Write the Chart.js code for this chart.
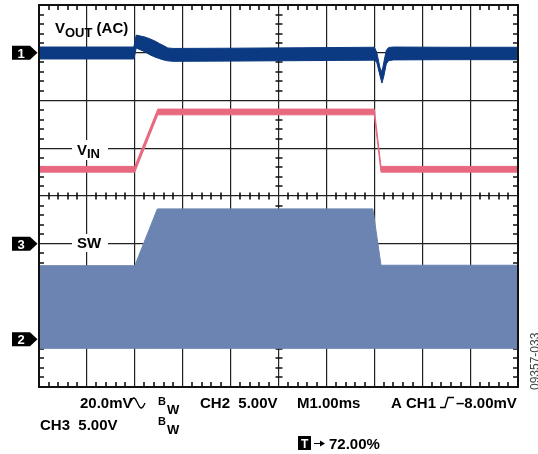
<!DOCTYPE html>
<html>
<head>
<meta charset="utf-8">
<script src="https://cdn.jsdelivr.net/npm/chart.js@4.4.1/dist/chart.umd.min.js"></script>
<style>
    html, body { margin: 0; padding: 0; background: #fff; }
    canvas { display: block; }
</style>
</head>
<body>
<canvas id="scope" width="538" height="454"></canvas>
<script>
// time base: M1.00ms per division, 10 divisions
const timeDivs = [0, 1, 2, 3, 4, 5, 6, 7, 8, 9, 10];

// CH1 - VOUT (AC), mV, upper and lower edge of the noisy trace
const voutTime  = [0, 1.98, 2.03, 2.12, 2.21, 2.32, 2.42, 2.52, 2.60, 2.69, 2.8, 4.0, 5.5, 7.0, 7.05, 7.12, 7.16, 7.2, 7.25, 7.3, 7.4, 8.5, 10];
const voutUpper = [2.4, 2.4, 7.4, 7.0, 6.6, 5.8, 4.9, 3.8, 3.0, 2.0, 1.8, 1.9, 2.1, 2.3, 0.3, -6.4, -8.0, -3.9, 1.0, 2.2, 2.4, 2.3, 2.3];
const voutLower = [-2.6, -2.6, 2.0, 1.2, 0.4, -0.9, -1.8, -2.5, -3.0, -3.4, -3.6, -3.5, -3.3, -3.1, -3.9, -9.7, -12.7, -9.7, -4.7, -3.3, -3.0, -2.9, -2.9];

// CH3 - VIN, volts
const vinTime  = [0, 2.0, 2.48, 7.0, 7.14, 10];
const vinUpper = [8.1, 8.1, 14.1, 14.1, 8.1, 8.1];
const vinLower = [7.5, 7.5, 13.5, 13.5, 7.5, 7.5];

// CH2 - SW node, volts (envelope of the switching waveform)
const swTime  = [0, 2.0, 2.47, 6.97, 7.14, 10];
const swUpper = [7.7, 7.7, 13.65, 13.65, 7.75, 7.75];
const swLower = [-0.95, -0.95, -0.95, -0.95, -0.95, -0.95];

// channel settings: volts (or mV) per division and ground marker position in divisions
const ch1PerDiv = 20, ch1Ground = 7;
const ch2PerDiv = 5, ch2Ground = 1;
const ch3PerDiv = 5, ch3Ground = 3;

const navy = '#0c3a82';
const pink = '#e8687f';
const slate = '#6c84b1';
const FONT = '"Liberation Sans", Arial, sans-serif';

function pts(t, v) {
    return t.map(function (x, i) { return { x: x, y: v[i] }; });
}

function band(label, t, hi, lo, axis, color) {
    return [
        { label: label, data: pts(t, hi), yAxisID: axis, borderColor: color, backgroundColor: color,
          borderWidth: 1, pointRadius: 0, tension: 0, fill: '+1' },
        { label: label + ' low', data: pts(t, lo), yAxisID: axis, borderColor: color,
          borderWidth: 1, pointRadius: 0, tension: 0, fill: false }
    ];
}

function channelAxis(perDiv, ground) {
    return { type: 'linear', display: false, min: -ground * perDiv, max: (8 - ground) * perDiv };
}

function subText(ctx, x, y, main, sub, size, subSize, drop) {
    ctx.font = 'bold ' + size + 'px ' + FONT;
    ctx.fillText(main, x, y);
    const w = ctx.measureText(main).width;
    ctx.font = 'bold ' + subSize + 'px ' + FONT;
    ctx.fillText(sub, x + w, y + drop);
    return x + w + ctx.measureText(sub).width;
}

function marker(ctx, y, txt) {
    ctx.fillStyle = '#000';
    ctx.beginPath();
    ctx.moveTo(12, y - 7);
    ctx.lineTo(30, y - 7);
    ctx.lineTo(37.5, y);
    ctx.lineTo(30, y + 7);
    ctx.lineTo(12, y + 7);
    ctx.closePath();
    ctx.fill();
    ctx.fillStyle = '#fff';
    ctx.font = 'bold 13px ' + FONT;
    ctx.textAlign = 'center';
    ctx.fillText(txt, 21, y + 5);
    ctx.textAlign = 'left';
}

// minor graticule ticks, 5 per division, on the frame and the centre axes
function drawMinorTicks(chart) {
    const ctx = chart.ctx, a = chart.chartArea;
    const xs = chart.scales.x, ys = chart.scales.div;
    const cx = Math.round(xs.getPixelForValue(5));
    const cy = Math.round(ys.getPixelForValue(4));
    ctx.save();
    ctx.strokeStyle = '#111';
    ctx.lineWidth = 1.6;
    ctx.beginPath();
    for (let i = 1; i < 50; i++) {
        if (i % 5 === 0) continue;
        const px = Math.round(xs.getPixelForValue(i / 5));
        ctx.moveTo(px, a.top); ctx.lineTo(px, a.top + 5);
        ctx.moveTo(px, a.bottom); ctx.lineTo(px, a.bottom - 5);
        ctx.moveTo(px, cy - 3.5); ctx.lineTo(px, cy + 3.5);
    }
    for (let j = 1; j < 40; j++) {
        if (j % 5 === 0) continue;
        const py = Math.round(ys.getPixelForValue(j / 5));
        ctx.moveTo(a.left, py); ctx.lineTo(a.left + 5, py);
        ctx.moveTo(a.right, py); ctx.lineTo(a.right - 5, py);
        ctx.moveTo(cx - 3.5, py); ctx.lineTo(cx + 3.5, py);
    }
    ctx.stroke();
    ctx.restore();
}

const scopeDecor = {
    id: 'scopeDecor',
    beforeDatasetsDraw: function (chart) {
        drawMinorTicks(chart);
    },
    afterDatasetsDraw: function (chart) {
        const ctx = chart.ctx, a = chart.chartArea;
        ctx.save();
        // frame
        ctx.strokeStyle = '#111';
        ctx.lineWidth = 2;
        ctx.strokeRect(a.left, a.top, a.right - a.left, a.bottom - a.top);

        // trace labels
        ctx.fillStyle = '#000';
        ctx.textBaseline = 'alphabetic';
        let x = subText(ctx, 55, 33, 'V', 'OUT', 15, 13, 4);
        ctx.font = 'bold 15px ' + FONT;
        ctx.fillText(' (AC)', x, 33);

        ctx.fillStyle = '#fff';
        ctx.fillRect(72, 140, 36, 20);
        ctx.fillRect(72, 234, 36, 18);
        ctx.fillStyle = '#000';
        subText(ctx, 77, 155, 'V', 'IN', 15, 13, 3);
        ctx.font = 'bold 15px ' + FONT;
        ctx.fillText('SW', 77, 248);

        // channel ground markers
        marker(ctx, chart.scales.yOut.getPixelForValue(0), '1');
        marker(ctx, chart.scales.yIn.getPixelForValue(0), '3');
        marker(ctx, chart.scales.ySw.getPixelForValue(0), '2');

        // readout below the graticule
        ctx.fillStyle = '#000';
        ctx.font = 'bold 15px ' + FONT;
        ctx.fillText('20.0mV', 80, 408);
        ctx.fillText('CH2  5.00V', 200, 408);
        ctx.fillText('M1.00ms', 297, 408);
        ctx.fillText('A CH1', 391, 408);
        ctx.fillText('\u20138.00mV', 456, 408);
        ctx.fillText('CH3  5.00V', 40, 430);
        ctx.fillText('72.00%', 329, 449);

        ctx.font = 'bold 11px ' + FONT;
        ctx.fillText('B', 158, 405);
        ctx.fillText('B', 158, 425);
        ctx.font = 'bold 13px ' + FONT;
        ctx.fillText('W', 167, 414);
        ctx.fillText('W', 167, 434);

        ctx.strokeStyle = '#000';
        ctx.lineWidth = 1.4;
        // AC coupling symbol
        ctx.beginPath();
        for (let s = 0; s <= 30; s++) {
            const px = 130 + s * 0.5;
            const py = 403 - 5 * Math.sin(Math.PI * 2 * s / 30);
            if (s === 0) ctx.moveTo(px, py); else ctx.lineTo(px, py);
        }
        ctx.stroke();
        // rising edge trigger symbol
        ctx.beginPath();
        ctx.moveTo(440, 407.5);
        ctx.lineTo(445, 407.5);
        ctx.lineTo(448, 397.5);
        ctx.lineTo(454, 397.5);
        ctx.stroke();

        // trigger position box and arrow
        ctx.fillStyle = '#000';
        ctx.fillRect(298, 436, 13, 14);
        ctx.fillStyle = '#fff';
        ctx.font = 'bold 12px ' + FONT;
        ctx.fillText('T', 301, 448);
        ctx.strokeStyle = '#000';
        ctx.lineWidth = 1;
        ctx.beginPath();
        ctx.moveTo(314, 443.5); ctx.lineTo(322, 443.5);
        ctx.stroke();
        ctx.fillStyle = '#000';
        ctx.beginPath();
        ctx.moveTo(325, 443.5); ctx.lineTo(320, 440.5); ctx.lineTo(320, 446.5);
        ctx.closePath();
        ctx.fill();

        // figure number
        ctx.save();
        ctx.translate(538.5, 390);
        ctx.rotate(-Math.PI / 2);
        ctx.fillStyle = '#444';
        ctx.font = '12px ' + FONT;
        ctx.fillText('09357-033', 0, 0);
        ctx.restore();

        ctx.restore();
    }
};

const gridAxis = function (max) {
    return {
        type: 'linear', min: 0, max: max,
        ticks: { display: false, stepSize: 1 },
        grid: { color: '#222', lineWidth: 1.2, drawTicks: false },
        border: { display: false }
    };
};

const scales = {
    x: Object.assign(gridAxis(timeDivs[timeDivs.length - 1]), { position: 'bottom' }),
    div: Object.assign(gridAxis(8), { position: 'left', axis: 'y' }),
    yOut: channelAxis(ch1PerDiv, ch1Ground),
    ySw: channelAxis(ch2PerDiv, ch2Ground),
    yIn: channelAxis(ch3PerDiv, ch3Ground)
};

new Chart(document.getElementById('scope').getContext('2d'), {
    type: 'line',
    data: {
        datasets: []
            .concat(band('SW', swTime, swUpper, swLower, 'ySw', slate))
            .concat(band('VIN', vinTime, vinUpper, vinLower, 'yIn', pink))
            .concat(band('VOUT', voutTime, voutUpper, voutLower, 'yOut', navy))
    },
    options: {
        responsive: false,
        animation: false,
        layout: { padding: { left: 39, top: 5, right: 20, bottom: 67 } },
        plugins: {
            legend: { display: false },
            tooltip: { enabled: false }
        },
        scales: scales
    },
    plugins: [scopeDecor]
});
</script>
</body>
</html>
